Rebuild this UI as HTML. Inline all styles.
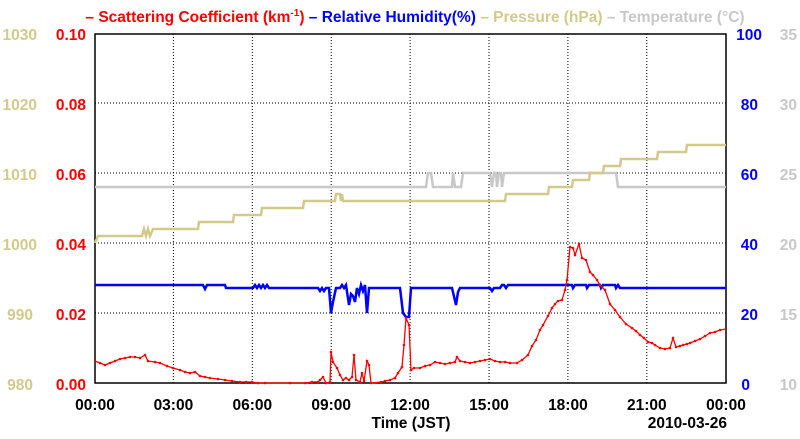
<!DOCTYPE html>
<html><head><meta charset="utf-8"><style>
body{margin:0;background:#fff;width:800px;height:434px;overflow:hidden}
svg text{font-family:"Liberation Sans",sans-serif;font-weight:bold}
</style></head><body>
<svg width="800" height="434" xmlns="http://www.w3.org/2000/svg">
<defs><marker id="d" markerWidth="3" markerHeight="3" refX="1.5" refY="1.5" markerUnits="userSpaceOnUse"><circle cx="1.5" cy="1.5" r="1.3" fill="#f00"/></marker></defs>
<text x="415" y="22" font-size="15.5" text-anchor="middle"><tspan fill="#f00">– Scattering Coefficient (km<tspan font-size="10" dy="-6">-1</tspan><tspan dy="6">) </tspan></tspan><tspan fill="#00f">– Relative Humidity(%) </tspan><tspan fill="#d2ca8a">– Pressure (hPa) </tspan><tspan fill="#c8c8c8">– Temperature (°C)</tspan></text>
<g stroke="#000" stroke-width="1" stroke-dasharray="1,2">
<line x1="173.4" y1="34" x2="173.4" y2="383"/><line x1="252.3" y1="34" x2="252.3" y2="383"/><line x1="331.2" y1="34" x2="331.2" y2="383"/><line x1="410.1" y1="34" x2="410.1" y2="383"/><line x1="489" y1="34" x2="489" y2="383"/><line x1="567.9" y1="34" x2="567.9" y2="383"/><line x1="646.8" y1="34" x2="646.8" y2="383"/>
<line x1="95" y1="103" x2="726" y2="103"/><line x1="95" y1="173" x2="726" y2="173"/><line x1="95" y1="243" x2="726" y2="243"/><line x1="95" y1="313" x2="726" y2="313"/>
</g>
<g stroke="#000" stroke-width="1.5" id="ticks"></g>
<rect x="95" y="34" width="631" height="349" fill="none" stroke="#000" stroke-width="1.5"/>
<polyline fill="none" stroke="#c8c8c8" stroke-width="2.5" points="95,187 426,187 428,173 431,173 433,187 452,187 453,173 455,187 461,187 463,173 490,173 492,187 494,173 496,173 497,187 499,173 501,173 502,187 504,173 616,173 618,187 726,187"/>
<polyline fill="none" stroke="#d2ca8a" stroke-width="2.5" points="95,243 98,236 142,236 144,229 146,236 148,229 150,236 153,229 198,229 199,222 233,222 234,215 261,215 262,208 303,208 304,201 335,201 336,194 340,194 341,201 342,194 343,201 505,201 506,194 548,194 549,187 572,187 573,180 589,180 590,173 603,173 604,166 620,166 621,159 657,159 658,152 686,152 687,145 726,145"/>
<polyline fill="none" stroke="#00f" stroke-width="2.5" points="95,285 203,285 205,289 207,285 225,285 226,288 253,288 255,285 257,288 259,285 261,288 263,285 265,288 267,285 269,288 272,288 318,288 320,291 322,288 324,291 326,288 329,288 331,313 333,302 336,288 340,288 342,285 344,288 346,285 349,305 351,294 353,296 355,302 357,288 359,294 361,285 363,291 365,285 367,313 369,288 400,288 403,313 406,317 409,317 411,288 452,288 456,305 458,292 460,288 490,288 492,291 494,288 500,288 502,285 504,285 506,288 508,285 572,285 573,288 575,285 586,285 587,288 589,285 600,285 601,288 603,285 615,285 616,288 618,285 620,288 726,288"/>
<polyline fill="none" stroke="#f00" stroke-width="1.3" marker-mid="url(#d)" points="95,361 100,363 105,365 110,363 115,361 120,359 125,358 130,357 135,357 140,358 145,355 148,361 155,362 160,363 167,366 173,368 180,370 185,372 190,373 195,372 200,376 205,377 210,378 218,379 225,380 232,381 240,382 246,382 252,382 258,383 265,383 290,383 305,383 312,382 318,382 320,380 323,377 326,383 330,382 331,352 333,362 337,368 340,375 343,380 346,378 349,380 352,377 354,355 356,380 360,382 362,373 364,381 367,361 369,365 371,383 381,382 385,381 390,380 395,378 398,373 402,367 404,345 406,318 409,325 411,370 414,368 420,368 425,366 430,365 435,362 440,363 445,364 450,363 455,362 457,357 460,361 465,362 470,363 475,362 480,361 485,360 490,359 495,361 500,362 505,362 510,363 517,363 522,360 528,355 532,346 536,340 540,330 543,325 548,316 552,308 555,304 558,301 562,300 565,290 567,280 570,247 573,248 575,255 579,244 582,258 586,260 590,272 593,275 597,280 600,285 605,290 610,304 615,310 620,317 626,324 632,328 636,331 640,335 644,338 648,342 652,343 655,345 660,348 665,349 670,348 673,338 676,347 680,346 683,345 687,344 690,343 695,341 700,339 705,336 710,333 715,332 720,330 726,329"/>
<g font-size="15.5" text-anchor="end">
<g fill="#d2ca8a"><text x="37" y="40">1030</text><text x="37" y="110">1020</text><text x="37" y="180">1010</text><text x="37" y="250">1000</text><text x="33" y="320">990</text><text x="33" y="390">980</text></g>
<g fill="#f00"><text x="86" y="40">0.10</text><text x="86" y="110">0.08</text><text x="86" y="180">0.06</text><text x="86" y="250">0.04</text><text x="86" y="320">0.02</text><text x="86" y="390">0.00</text></g>
<g fill="#00f"><text x="762" y="40">100</text><text x="758" y="110">80</text><text x="758" y="180">60</text><text x="758" y="250">40</text><text x="758" y="320">20</text><text x="750" y="390">0</text></g>
<g fill="#c8c8c8"><text x="797" y="40">35</text><text x="797" y="110">30</text><text x="797" y="180">25</text><text x="797" y="250">20</text><text x="797" y="320">15</text><text x="797" y="390">10</text></g>
</g>
<g font-size="15.5" text-anchor="middle" fill="#000">
<text x="95" y="410">00:00</text><text x="173.4" y="410">03:00</text><text x="252.3" y="410">06:00</text><text x="331.2" y="410">09:00</text><text x="410.1" y="410">12:00</text><text x="489" y="410">15:00</text><text x="567.9" y="410">18:00</text><text x="646.8" y="410">21:00</text><text x="726" y="410">00:00</text>
<text x="411" y="428">Time (JST)</text><text x="727" y="428" text-anchor="end">2010-03-26</text>
</g>
<script>
var g=document.getElementById('ticks'),s='';
for(var i=0;i<=20;i++){var y=34+i*17.45,L=(i%4==0)?9:5;s+='<line x1="95" y1="'+y+'" x2="'+(95+L)+'" y2="'+y+'"/><line x1="726" y1="'+y+'" x2="'+(726-L)+'" y2="'+y+'"/>';}
for(var h=0;h<=24;h++){var x=95+h*26.29,L=(h%3==0)?9:5;s+='<line x1="'+x+'" y1="383" x2="'+x+'" y2="'+(383-L)+'"/>';}
g.innerHTML=s;
</script>
</svg>
</body></html>
